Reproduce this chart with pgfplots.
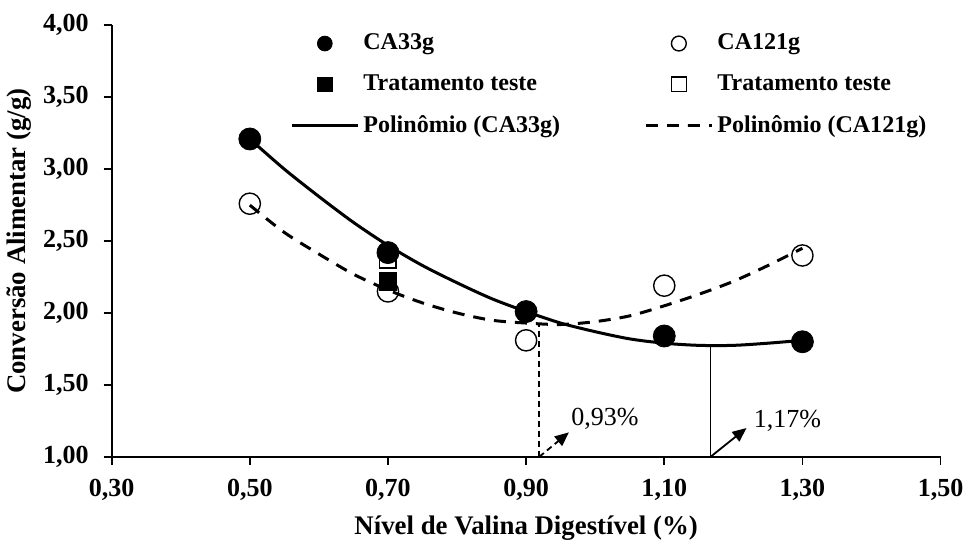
\documentclass[border=0pt]{standalone}
\usepackage{pgfplots}
\pgfplotsset{compat=1.18}
\usepackage{fontspec}
\setmainfont{Liberation Serif}
\usetikzlibrary{arrows.meta}

\begin{document}
\begin{tikzpicture}
\begin{axis}[
  scale only axis, width=414pt, height=215.5pt,
  xmin=0.3, xmax=1.5, ymin=1, ymax=4,
  xtick={0.3,0.5,0.7,0.9,1.1,1.3,1.5},
  ytick={1,1.5,2,2.5,3,3.5,4},
  axis x line*=bottom, axis y line*=left,
  axis line style={-, line width=0.9pt},
  tick style={black, line width=0.9pt},
  tick align=outside, major tick length=4pt,
  /pgf/number format/.cd, fixed, fixed zerofill, precision=2, use comma, assume math mode=true,
  /pgfplots/.cd,
  tick label style={font=\fontsize{13}{15}\selectfont\bfseries},
  xticklabel style={yshift=-3.5pt},
  yticklabel style={xshift=-4pt},
  xlabel={Nível de Valina Digestível (\%)},
  ylabel={Conversão Alimentar (g/g)},
  label style={font=\fontsize{13.4}{15}\selectfont\bfseries},
  xlabel style={yshift=-1pt},
  ylabel style={yshift=-1pt},
  legend columns=2,
  legend style={draw=none, fill=none, at={(0.215,0.99)}, anchor=north west, inner sep=0pt,
    font=\fontsize{12}{14}\selectfont\bfseries,
    /tikz/every even column/.append style={column sep=40pt},
    row sep=7pt},
  legend cell align=left,
  legend image code/.code={\draw[mark repeat=2,mark phase=2,#1] plot coordinates {(0cm,0cm) (0.58cm,0cm) (1.16cm,0cm)};},
  legend image post style={mark size=3.7pt},
]
% pontos
\addplot[only marks, mark=*, mark size=5.5pt, black, mark options={fill=black}]
  coordinates {(0.5,3.21) (0.7,2.42) (0.9,2.01) (1.1,1.84) (1.3,1.80)};
\addlegendentry{CA33g}
\addplot[only marks, mark=o, mark size=5.3pt, black, mark options={fill=white, line width=0.7pt}]
  coordinates {(0.5,2.76) (0.7,2.15) (0.9,1.81) (1.1,2.19) (1.3,2.40)};
\addlegendentry{CA121g}
\addplot[only marks, mark=square*, mark size=4.3pt, black, mark options={fill=black}]
  coordinates {(0.7,2.22)};
\addlegendentry{Tratamento teste}
\addplot[only marks, mark=square, mark size=4.1pt, black, mark options={fill=white, line width=0.7pt}]
  coordinates {(0.7,2.37)};
\addlegendentry{Tratamento teste}
% curvas
\addplot[black, line width=1.5pt, smooth, no marks]
  coordinates {(0.5,3.21) (0.55,3.00) (0.6,2.81) (0.65,2.63) (0.7,2.47) (0.75,2.33) (0.8,2.21) (0.85,2.10) (0.9,2.01) (0.95,1.93) (1.0,1.87) (1.05,1.82) (1.1,1.79) (1.15,1.775) (1.2,1.775) (1.25,1.79) (1.3,1.81)};
\addlegendentry{Polinômio (CA33g)}
\addplot[black, line width=1.5pt, smooth, no marks, dash pattern=on 6pt off 4.5pt]
  coordinates {(0.5,2.75) (0.55,2.56) (0.6,2.41) (0.65,2.27) (0.7,2.16) (0.75,2.07) (0.8,2.00) (0.85,1.95) (0.9,1.93) (0.95,1.92) (1.0,1.94) (1.05,1.98) (1.1,2.05) (1.15,2.13) (1.2,2.22) (1.25,2.33) (1.3,2.45)};
\addlegendentry{Polinômio (CA121g)}
% linhas de queda e setas
\addplot[forget plot, black, line width=0.75pt, dash pattern=on 3pt off 2pt]
  coordinates {(0.919,1.0) (0.919,1.93)};
\addplot[forget plot, black, line width=0.75pt]
  coordinates {(1.167,1.0) (1.167,1.775)};
\addplot[forget plot, black, line width=0.9pt, dash pattern=on 3pt off 2pt, -{Triangle[length=7pt,width=6pt]}]
  coordinates {(0.919,1.0) (0.962,1.17)};
\addplot[forget plot, black, line width=0.9pt, -{Triangle[length=7pt,width=6pt]}]
  coordinates {(1.167,1.0) (1.219,1.2)};
\node[anchor=west, font=\fontsize{13}{15}\selectfont, inner sep=0pt] at (axis cs:0.965,1.265) {0,93\%};
\node[anchor=west, font=\fontsize{13}{15}\selectfont, inner sep=0pt] at (axis cs:1.229,1.25) {1,17\%};
\end{axis}
\path ([yshift=4pt]current bounding box.north);
\end{tikzpicture}
\end{document}
